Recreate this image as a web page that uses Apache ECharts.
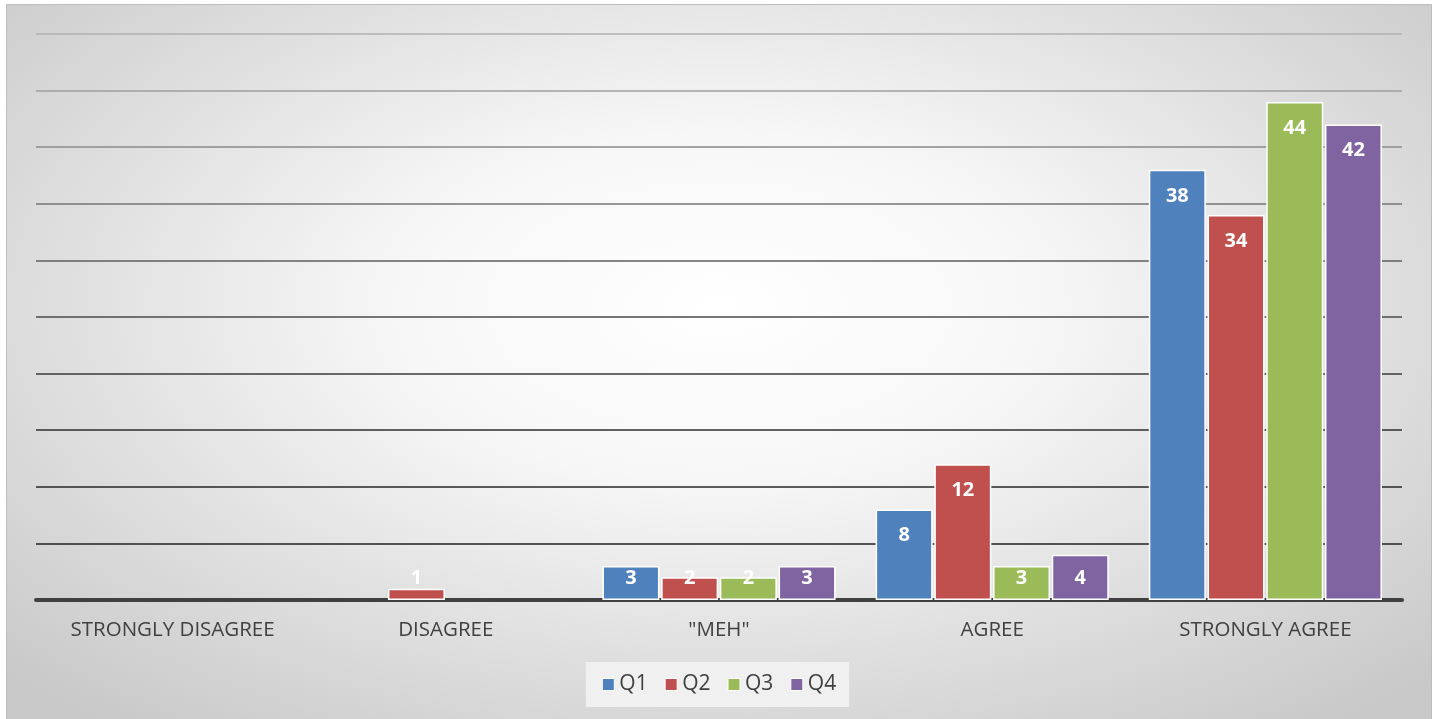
<!DOCTYPE html>
<html>
<head>
<meta charset="utf-8">
<script src="https://cdn.jsdelivr.net/npm/echarts@6/dist/echarts.min.js"></script>
<style>
  html, body { margin: 0; padding: 0; background: #ffffff; overflow: hidden; width: 1439px; height: 719px; }
  #frame {
    position: absolute; left: 6px; top: 4px; width: 1426px; height: 720px;
    box-sizing: border-box; border: 1px solid #bdbdbd;
    background: radial-gradient(ellipse 70% 75% at 50% 42%, #ffffff 0%, #f7f7f7 32%, #dfdfdf 66%, #c8c8c8 100%);
  }
  #chart { position: absolute; left: 0; top: 0; width: 1424px; height: 718px; }
</style>
</head>
<body>
<div id="frame"><div id="chart"></div></div>
<script>
const categories = ['STRONGLY DISAGREE', 'DISAGREE', '"MEH"', 'AGREE', 'STRONGLY AGREE'];
const seriesNames = ['Q1', 'Q2', 'Q3', 'Q4'];
const q1 = [0, 0, 3, 8, 38];
const q2 = [0, 1, 2, 12, 34];
const q3 = [0, 0, 2, 3, 44];
const q4 = [0, 0, 3, 4, 42];
const colors = ['#4F81BD', '#C0504D', '#9BBB59', '#8064A2'];

const gridColors = ['#333333', '#202020', '#262626', '#2e2e2e', '#3a3a3a', '#4a4a4a', '#5e5e5e', '#747474', '#8a8a8a', '#9e9e9e', '#b0b0b0'];

function toData(values) {
  return values.map(v => {
    if (v === 0) return { value: v, label: { show: false }, itemStyle: { borderWidth: 0 } };
    if (v <= 4) return { value: v, label: { position: 'insideBottom', distance: 12 } };
    return { value: v, label: { position: 'insideTop', distance: 16 } };
  });
}

const allValues = [q1, q2, q3, q4];
const series = allValues.map((vals, i) => ({
  name: seriesNames[i],
  type: 'bar',
  barWidth: 57,
  barGap: '3%',
  data: toData(vals),
  itemStyle: { color: colors[i], borderColor: '#ffffff', borderWidth: 1.5 },
  label: {
    show: true,
    color: '#ffffff',
    fontFamily: 'Open Sans',
    fontWeight: 'bold',
    fontSize: 20
  }
}));

const chart = echarts.init(document.getElementById('chart'));
chart.setOption({
  backgroundColor: 'transparent',
  animation: false,
  color: colors,
  grid: { left: 29, right: 29, top: 29, bottom: 123 },
  legend: {
    data: seriesNames,
    bottom: 16,
    left: 'center',
    backgroundColor: '#f0f0f0',
    padding: [12, 13, 12, 16],
    itemWidth: 12,
    itemHeight: 12,
    itemGap: 17,
    icon: 'rect',
    itemStyle: { borderColor: '#ffffff', borderWidth: 1 },
    textStyle: { color: '#404040', fontSize: 21, fontFamily: 'Open Sans', padding: [0, 0, 0, 0] }
  },
  xAxis: {
    type: 'category',
    data: categories,
    axisLine: { show: true, lineStyle: { color: '#404040', width: 4 } },
    axisTick: { show: false },
    axisLabel: { color: '#404040', fontSize: 20.5, fontFamily: 'Open Sans', margin: 20 },
    splitLine: { show: false }
  },
  yAxis: {
    type: 'value',
    min: 0,
    max: 50,
    interval: 5,
    axisLine: { show: false },
    axisTick: { show: false },
    axisLabel: { show: false },
    splitLine: { show: true, lineStyle: { color: gridColors, width: 1.5 } }
  },
  series: series
});
</script>
</body>
</html>
